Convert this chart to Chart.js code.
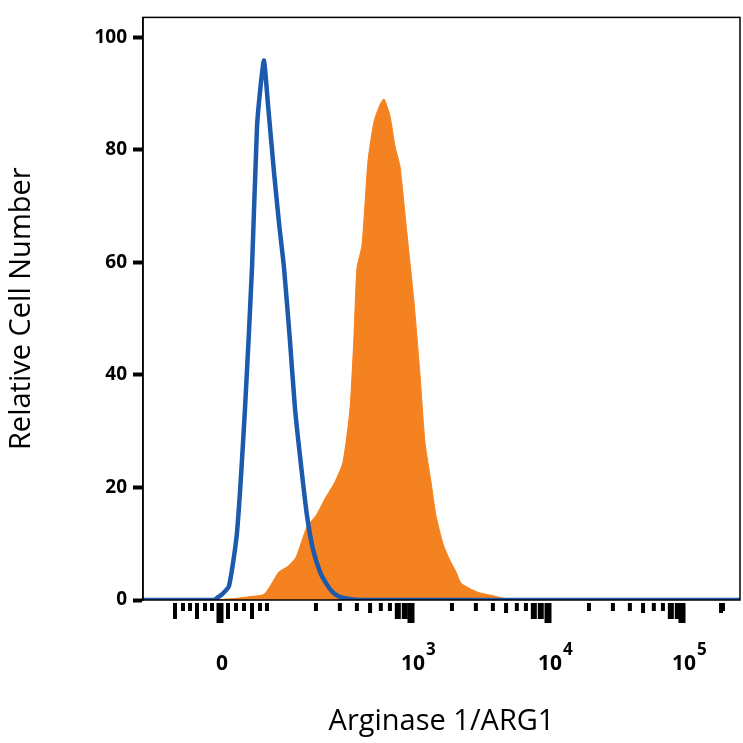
<!DOCTYPE html>
<html><head><meta charset="utf-8">
<script src="https://cdn.jsdelivr.net/npm/chart.js@4/dist/chart.umd.min.js"></script>
<style>html,body{margin:0;padding:0;background:#fff}</style></head>
<body><canvas id="c" width="743" height="743"></canvas>
<script>
// x in display channel units
const blueX = [143,200,214,218,222,229,237,245,252,257,261,264,268,274,279,284,290,295,301,307,313,320,326,332,338,345,360,740];
const blueY = [0,0,0,0.5,1,2.5,12,34,59,84,92,95.8,88,76,67,59,46,34,24,15,9,5,3,1.5,0.7,0.3,0,0];
const orangeX = [143,210,236,250,264,272,279,288,296,307,316,325,335,343,350,354,357,362,368,374,380,384,390,395,400,407,414,420,425,431,436,443,450,456,461,470,479,492,504,520,740];
const orangeY = [0,0,0.3,0.6,1,3,5,6,7.6,13,15,18,21,24.5,34,47,59,63,78,85,88,89,86,80.6,77,65,53,40,28,21,15,10,7,5,3,2,1.3,0.8,0.3,0,0];
const yTicks = [0,20,40,60,80,100];
const xMajor = [{v:220,b:'0',e:''},{v:411,b:'10',e:'3'},{v:548,b:'10',e:'4'},{v:682,b:'10',e:'5'}];
const nearZero = [175,183,190,197,205,212,228,236,244,252,260,267];
const decades = [275,411,548,682];
const FONT = "'Open Sans', 'Liberation Sans', sans-serif";

const pts = (xs, ys) => xs.map((x,i)=>({x, y:ys[i]}));

const xTickPlugin = {
  id:'xticks',
  afterDraw(chart){
    const {ctx, chartArea:a, scales:{x}} = chart;
    ctx.save();
    ctx.fillStyle = '#000';
    const mark = (v, len, w)=>{ const p = x.getPixelForValue(v); if(p<a.left||p>a.right) return; ctx.fillRect(p-w/2, a.bottom+3, w, len); };
    nearZero.forEach((v,i)=>mark(v, i%3===0?16:8, 4));
    decades.forEach(d=>{ for(let k=2;k<=9;k++) mark(d+136*Math.log10(k), k===5?10:(k>=8?16:8), k>=8?6:4); });
    xMajor.forEach(m=>mark(m.v, 20, 7));
    mark(721, 10, 4);
    ctx.strokeStyle='#000'; ctx.lineWidth=1.5;
    ctx.strokeRect(a.left, a.top, a.right-a.left, a.bottom-a.top);
    ctx.textBaseline='alphabetic';
    xMajor.forEach(m=>{
      const p = x.getPixelForValue(m.v);
      ctx.font = `bold 21px ${FONT}`;
      const wb = ctx.measureText(m.b).width;
      ctx.font = `bold 17px ${FONT}`;
      const we = m.e ? ctx.measureText(m.e).width : 0;
      const start = m.e ? p - wb/2 + 2 : p - wb/2 + 2;
      ctx.font = `bold 21px ${FONT}`; ctx.textAlign='left';
      ctx.fillText(m.b, start, 670);
      if(m.e){ ctx.font = `bold 17px ${FONT}`; ctx.fillText(m.e, start+wb+1, 655); }
    });
    ctx.restore();
  }
};

new Chart(document.getElementById('c'), {
  type:'line',
  data:{datasets:[
    {data:pts(blueX,blueY), borderColor:'#1c5aad', borderWidth:4.5, fill:false, pointRadius:0, tension:0.2, order:0},
    {data:pts(orangeX,orangeY), borderColor:'#f58220', backgroundColor:'#f58220', borderWidth:1, fill:'origin', pointRadius:0, tension:0.2, order:1}
  ]},
  options:{
    responsive:false, animation:false,
    layout:{padding:{top:0,right:3}},
    plugins:{legend:{display:false}, tooltip:{enabled:false}},
    scales:{
      x:{type:'linear', min:143, max:740,
         afterFit(s){s.height=143;},
         grid:{display:false, drawTicks:false}, border:{display:false},
         ticks:{display:false},
         title:{display:true, text:'Arginase 1/ARG1', font:{family:FONT,size:29}, color:'#000', padding:{top:72}}},
      y:{min:0, max:103.5,
         afterFit(s){s.width=143;},
         afterBuildTicks(s){s.ticks = yTicks.map(v=>({value:v}));},
         grid:{drawOnChartArea:false, tickLength:10, tickColor:'#000', tickWidth:4},
         border:{color:'#000', width:1.5},
         ticks:{color:'#000', font:{family:FONT, size:19, weight:'bold'}, padding:6},
         title:{display:true, text:'Relative Cell Number', font:{family:FONT,size:29}, color:'#000', padding:{bottom:38}}}
    }
  },
  plugins:[xTickPlugin]
});
</script></body></html>
